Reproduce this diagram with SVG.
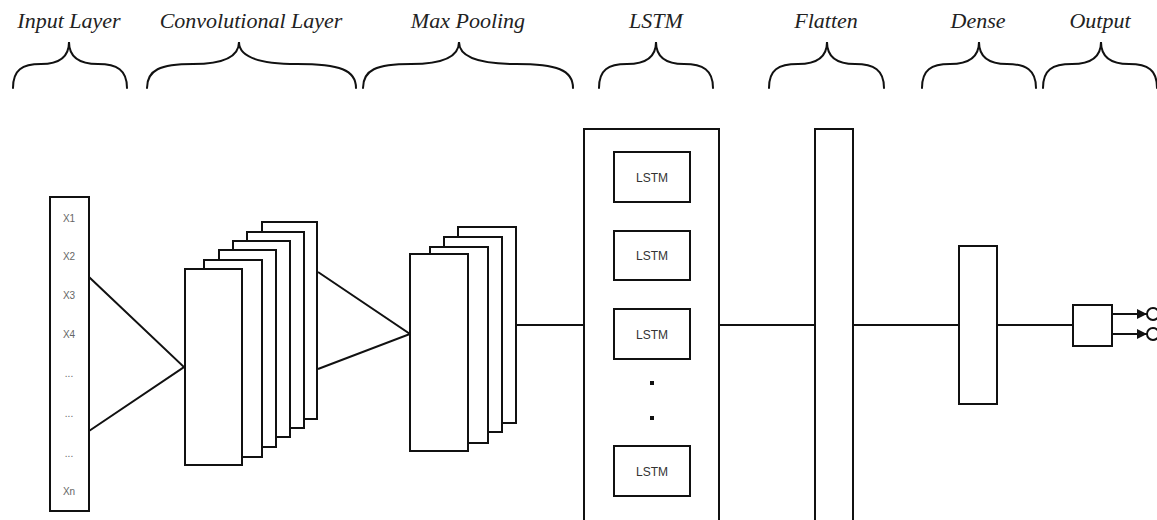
<svg xmlns="http://www.w3.org/2000/svg" width="1157" height="520" viewBox="0 0 1157 520">
  <style>
    .box { fill: #fff; stroke: #111; stroke-width: 2; }
    .edge { fill: none; stroke: #111; stroke-width: 2; }
    .brace { fill: none; stroke: #111; stroke-width: 2; stroke-linecap: round; }
    .title { font-family: "Liberation Serif", "Times New Roman", serif; font-style: italic; font-size: 22px; fill: #222; text-anchor: middle; }
    .xin { font-family: "Liberation Sans", Arial, sans-serif; font-size: 10px; fill: #666; text-anchor: middle; }
    .cell { font-family: "Liberation Sans", Arial, sans-serif; font-size: 12px; fill: #333; text-anchor: middle; }
  </style>
  <defs>
    <marker id="arrow" viewBox="0 0 10 10" refX="10" refY="5" markerWidth="5" markerHeight="5" orient="auto" markerUnits="strokeWidth">
      <path d="M0,0 L10,5 L0,10 z" fill="#111"/>
    </marker>
  </defs>
  <rect width="1157" height="520" fill="#fff"/>

  <!-- layer titles and braces -->
  <g id="headers">
    <text class="title" x="69" y="28">Input Layer</text>
    <text class="title" x="251" y="28">Convolutional Layer</text>
    <text class="title" x="468" y="28">Max Pooling</text>
    <text class="title" x="656" y="28">LSTM</text>
    <text class="title" x="826" y="28">Flatten</text>
    <text class="title" x="978" y="28">Dense</text>
    <text class="title" x="1100" y="28">Output</text>
    <path class="brace" d="M13,88 C13,70 22,64 41,64 Q69,64 69,42 Q69,64 98,64 C117,64 127,70 127,88"/>
    <path class="brace" d="M147,88 C147,70 160,64 193,64 Q239,64 239,42 Q239,64 297,64 C340,64 356,70 356,88"/>
    <path class="brace" d="M363,88 C363,70 376,64 411,64 Q459,64 459,42 Q459,64 516,64 C557,64 573,70 573,88"/>
    <path class="brace" d="M599,88 C599,70 608,64 627,64 Q656,64 656,42 Q656,64 684,64 C703,64 713,70 713,88"/>
    <path class="brace" d="M769,88 C769,70 778,64 798,64 Q827,64 827,42 Q827,64 855,64 C874,64 884,70 884,88"/>
    <path class="brace" d="M922,88 C922,70 931,64 950,64 Q979,64 979,42 Q979,64 1007,64 C1026,64 1036,70 1036,88"/>
    <path class="brace" d="M1043,88 C1043,70 1052,64 1072,64 Q1101,64 1101,42 Q1101,64 1129,64 C1148,64 1157,70 1157,88"/>
  </g>

  <!-- connectors -->
  <g id="connectors">
    <path class="edge" d="M89,277 L184,367 L89,431"/>
    <path class="edge" d="M318,272 L410,334 L318,369"/>
    <line class="edge" x1="516" y1="325" x2="584" y2="325"/>
    <line class="edge" x1="719" y1="325" x2="815" y2="325"/>
    <line class="edge" x1="853" y1="325" x2="959" y2="325"/>
    <line class="edge" x1="997" y1="325" x2="1073" y2="325"/>
    <line class="edge" x1="1112" y1="314" x2="1147" y2="314" marker-end="url(#arrow)"/>
    <line class="edge" x1="1112" y1="334" x2="1147" y2="334" marker-end="url(#arrow)"/>
  </g>

  <!-- input vector -->
  <g id="input">
    <rect class="box" x="50" y="197" width="39" height="314"/>
    <text class="xin" x="69" y="222">X1</text>
    <text class="xin" x="69" y="260">X2</text>
    <text class="xin" x="69" y="299">X3</text>
    <text class="xin" x="69" y="338">X4</text>
    <text class="xin" x="69" y="377">...</text>
    <text class="xin" x="69" y="417">...</text>
    <text class="xin" x="69" y="457">...</text>
    <text class="xin" x="69" y="495">Xn</text>
  </g>

  <!-- convolution feature maps, back to front -->
  <g id="conv">
    <rect class="box" x="262" y="222" width="55" height="197"/>
    <rect class="box" x="247" y="232" width="57" height="196"/>
    <rect class="box" x="233" y="241" width="57" height="196"/>
    <rect class="box" x="219" y="250" width="57" height="197"/>
    <rect class="box" x="204" y="260" width="58" height="197"/>
    <rect class="box" x="185" y="269" width="57" height="196"/>
  </g>

  <!-- pooled maps, back to front -->
  <g id="pool">
    <rect class="box" x="458" y="227" width="58" height="196"/>
    <rect class="box" x="444" y="237" width="58" height="195"/>
    <rect class="box" x="430" y="247" width="58" height="196"/>
    <rect class="box" x="410" y="254" width="58" height="197"/>
  </g>

  <!-- recurrent block -->
  <g id="lstm">
    <rect class="box" x="584" y="129" width="135" height="400"/>
    <rect class="box" x="614" y="152" width="76" height="50"/>
    <text class="cell" x="652" y="182">LSTM</text>
    <rect class="box" x="614" y="231" width="76" height="49"/>
    <text class="cell" x="652" y="260">LSTM</text>
    <rect class="box" x="614" y="309" width="76" height="50"/>
    <text class="cell" x="652" y="339">LSTM</text>
    <rect x="650" y="381" width="4" height="4" fill="#111"/>
    <rect x="650" y="416" width="4" height="4" fill="#111"/>
    <rect class="box" x="614" y="446" width="76" height="50"/>
    <text class="cell" x="652" y="476">LSTM</text>
  </g>

  <g id="flatten">
    <rect class="box" x="815" y="129" width="38" height="400"/>
  </g>

  <g id="dense">
    <rect class="box" x="959" y="246" width="38" height="158"/>
  </g>

  <g id="output">
    <rect class="box" x="1073" y="305" width="39" height="41"/>
    <circle class="edge" cx="1153" cy="314" r="6"/>
    <circle class="edge" cx="1153" cy="334" r="6"/>
  </g>
</svg>
